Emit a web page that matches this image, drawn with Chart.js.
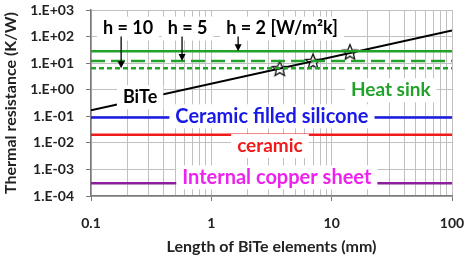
<!DOCTYPE html>
<html>
<head>
<meta charset="utf-8">
<script src="https://cdn.jsdelivr.net/npm/chart.js@4/dist/chart.umd.min.js"></script>
<style>
html, body { margin: 0; padding: 0; background: #fff; }
#wrap { width: 466px; height: 258px; position: relative; }
</style>
</head>
<body>
<div id="wrap"><canvas id="chart"></canvas></div>
<script>
// Axis ticks
const xTickValues = [0.1, 1, 10, 100];
const xTickLabels = ['0.1', '1', '10', '100'];
const yTickValues = [1e-4, 1e-3, 1e-2, 1e-1, 1, 10, 100, 1000];
const yTickLabels = ['1.E-04', '1.E-03', '1.E-02', '1.E-01', '1.E+00', '1.E+01', '1.E+02', '1.E+03'];

// BiTe element resistance vs length
const biteLength = [0.1, 100];
const biteResistance = [0.17, 170];

// marked intersections with the heat sink lines
const starLength = [3.7, 7.0, 14.2];
const starResistance = [6.5, 12, 27];

// constant resistances (K/W)
const heatSinkH2 = 28;
const heatSinkH5 = 12;
const heatSinkH10 = 6.4;
const ceramicSilicone = 0.09;
const ceramicPlate = 0.02;
const copperSheet = 3e-4;

const FONT = 'Lato, "Open Sans", sans-serif';

// text boxes drawn on the plot (data coordinates)
const labels = [
	{ text: 'h = 10', x: 0.203, y: 200, color: '#000', size: 18 },
	{ text: 'h = 5', x: 0.634, y: 200, color: '#000', size: 18 },
	{ text: 'h = 2 [W/m²k]', x: 3.87, y: 200, color: '#000', size: 18 },
	{ text: 'BiTe', x: 0.256, y: 0.525, color: '#000', size: 18 },
	{ text: 'Heat sink', x: 31, y: 0.95, color: '#22a22a', size: 19 },
	{ text: 'Ceramic filled silicone', x: 3.19, y: 0.1, color: '#1a1ae6', size: 20 },
	{ text: 'ceramic', x: 3.07, y: 0.0076, color: '#f01a1a', size: 19 },
	{ text: 'Internal copper sheet', x: 3.5, y: 5e-4, color: '#ee22ee', size: 20 }
];
const arrows = [
	{ x: 0.178, from: 100, to: heatSinkH10 },
	{ x: 0.571, from: 100, to: heatSinkH5 },
	{ x: 1.67, from: 100, to: heatSinkH2 }
];

function flat(v) {
	return [{ x: 0.1, y: v }, { x: 100, y: v }];
}

function makeStar(r) {
	const c = document.createElement('canvas');
	const s = Math.ceil(r * 2 + 4);
	c.width = s;
	c.height = s;
	const g = c.getContext('2d');
	g.beginPath();
	for (let i = 0; i < 10; i++) {
		const rr = i % 2 ? r * 0.45 : r;
		const a = -Math.PI / 2 + i * Math.PI / 5;
		g.lineTo(s / 2 + rr * Math.cos(a), s / 2 + 1 + rr * Math.sin(a));
	}
	g.closePath();
	g.fillStyle = 'rgba(255,255,255,0.35)';
	g.fill();
	g.lineWidth = 1.3;
	g.strokeStyle = '#111';
	g.stroke();
	return c;
}

const isMajor = v => xTickValues.some(t => Math.abs(t - v) / t < 1e-6);

// every 1..9 multiple per decade for the vertical grid
const xGrid = [];
for (let d = 0.1; d < 100; d *= 10) {
	for (let m = 1; m < 10; m++) xGrid.push(+(d * m).toPrecision(3));
}
xGrid.push(100);

const labelPlugin = {
	id: 'boxLabels',
	afterDatasetsDraw(chart) {
		const { ctx, scales: { x, y } } = chart;
		ctx.save();
		labels.forEach(l => {
			ctx.font = `bold ${l.size}px ${FONT}`;
			const w = ctx.measureText(l.text).width;
			const px = x.getPixelForValue(l.x);
			const py = y.getPixelForValue(l.y);
			ctx.fillStyle = '#fff';
			ctx.fillRect(px - w / 2 - 6, py - 12, w + 12, 24);
			ctx.fillStyle = l.color;
			ctx.textAlign = 'center';
			ctx.textBaseline = 'middle';
			ctx.fillText(l.text, px, py);
		});
		// arrows from h labels down to the lines
		ctx.strokeStyle = '#000';
		ctx.fillStyle = '#000';
		ctx.lineWidth = 1.3;
		arrows.forEach(a => {
			const px = x.getPixelForValue(a.x);
			const y0 = y.getPixelForValue(a.from);
			const y1 = y.getPixelForValue(a.to);
			ctx.beginPath();
			ctx.moveTo(px, y0);
			ctx.lineTo(px, y1 - 6);
			ctx.stroke();
			ctx.beginPath();
			ctx.moveTo(px - 3.5, y1 - 7);
			ctx.lineTo(px + 3.5, y1 - 7);
			ctx.lineTo(px, y1);
			ctx.closePath();
			ctx.fill();
		});
		ctx.restore();
	}
};

const ctx = document.getElementById('chart').getContext('2d');

new Chart(ctx, {
	type: 'line',
	data: {
		datasets: [
			{ label: 'h = 2', data: flat(heatSinkH2), borderColor: '#22a22a', borderWidth: 2.5, pointRadius: 0 },
			{ label: 'h = 5', data: flat(heatSinkH5), borderColor: '#22a22a', borderWidth: 2.5, borderDash: [14, 6], pointRadius: 0 },
			{ label: 'h = 10', data: flat(heatSinkH10), borderColor: '#22a22a', borderWidth: 2.5, borderDash: [5, 3], pointRadius: 0 },
			{ label: 'Ceramic filled silicone', data: flat(ceramicSilicone), borderColor: '#1a1ae6', borderWidth: 2.5, pointRadius: 0 },
			{ label: 'ceramic', data: flat(ceramicPlate), borderColor: '#f01a1a', borderWidth: 2.5, pointRadius: 0 },
			{ label: 'Internal copper sheet', data: flat(copperSheet), borderColor: '#8c1e9c', borderWidth: 2.5, pointRadius: 0 },
			{
				label: 'BiTe',
				data: biteLength.map((v, i) => ({ x: v, y: biteResistance[i] })),
				borderColor: '#000',
				borderWidth: 2,
				pointRadius: 0
			},
			{
				label: 'stars',
				data: starLength.map((v, i) => ({ x: v, y: starResistance[i] })),
				showLine: false,
				pointStyle: makeStar(8),
				pointRadius: 9
			}
		]
	},
	options: {
		responsive: true,
		maintainAspectRatio: false,
		animation: false,
		layout: { padding: { top: 6, right: 14, left: 0, bottom: 0 } },
		plugins: {
			legend: { display: false },
			tooltip: { enabled: false }
		},
		scales: {
			x: {
				type: 'logarithmic',
				min: 0.1,
				max: 100,
				afterBuildTicks: s => { s.ticks = xGrid.map(v => ({ value: v })); },
				afterFit: s => {
					s.height = 62;
					s.paddingLeft = 0;
					s.paddingRight = 0;
				},
				ticks: {
					autoSkip: false,
					maxRotation: 0,
					padding: 14,
					color: '#222',
					font: { family: FONT, weight: 'bold', size: 14 },
					callback: v => {
						const i = xTickValues.findIndex(t => Math.abs(t - v) / t < 1e-6);
						return i >= 0 ? xTickLabels[i] : '';
					}
				},
				grid: {
					color: '#c0c0c0',
					lineWidth: 1,
					tickLength: 5,
					tickColor: c => (c.tick && isMajor(c.tick.value) ? '#777' : 'rgba(0,0,0,0)')
				},
				border: { color: '#7a7a7a', width: 1.5 },
				title: {
					display: true,
					text: 'Length of BiTe elements (mm)',
					color: '#222',
					font: { family: FONT, weight: 'bold', size: 16, lineHeight: 1.2 },
					padding: { top: 0, bottom: 2 }
				}
			},
			y: {
				type: 'logarithmic',
				min: 1e-4,
				max: 1e3,
				afterBuildTicks: s => { s.ticks = yTickValues.map(v => ({ value: v })); },
				afterFit: s => {
					s.width = 91;
					s.paddingTop = 0;
					s.paddingBottom = 0;
				},
				ticks: {
					autoSkip: false,
					padding: 12,
					color: '#222',
					font: { family: FONT, weight: 'bold', size: 14 },
					callback: v => {
						const i = yTickValues.findIndex(t => Math.abs(t - v) / t < 1e-6);
						return i >= 0 ? yTickLabels[i] : '';
					}
				},
				grid: { color: '#c0c0c0', lineWidth: 1, tickLength: 5, tickColor: '#777' },
				border: { color: '#7a7a7a', width: 1.5 },
				title: {
					display: true,
					text: 'Thermal resistance (K/W)',
					color: '#222',
					font: { family: FONT, weight: 'bold', size: 16, lineHeight: 1.2 },
					padding: { top: 1, bottom: 0 }
				}
			}
		}
	},
	plugins: [labelPlugin]
});
</script>
</body>
</html>
